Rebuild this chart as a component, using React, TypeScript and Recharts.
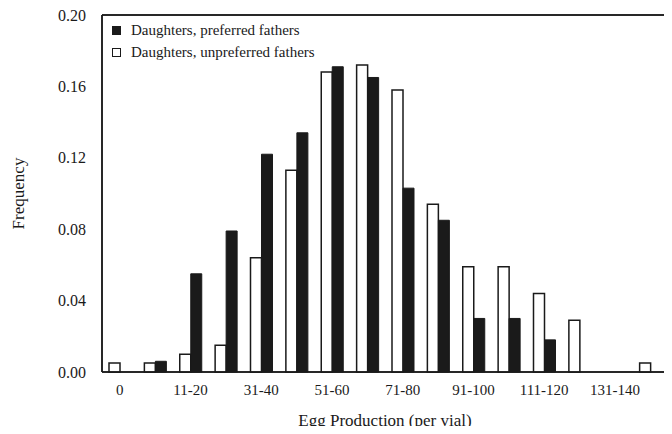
import { BarChart, Bar, XAxis, YAxis, CartesianGrid, ReferenceLine } from 'recharts'

const categories = [
  '0', '1-10', '11-20', '21-30', '31-40', '41-50', '51-60', '61-70',
  '71-80', '81-90', '91-100', '101-110', '111-120', '121-130', '131-140', '141-150',
]
const preferred = [0, 0.006, 0.055, 0.079, 0.122, 0.134, 0.171, 0.165, 0.103, 0.085, 0.03, 0.03, 0.018, 0, 0, 0]
const unpreferred = [0.005, 0.005, 0.01, 0.015, 0.064, 0.113, 0.168, 0.172, 0.158, 0.094, 0.059, 0.059, 0.044, 0.029, 0, 0.005]
const yTicks = [0, 0.04, 0.08, 0.12, 0.16, 0.2]
const legendItems = ['Daughters, preferred fathers', 'Daughters, unpreferred fathers']

const data = categories.map((cat, i) => ({
  cat,
  preferred: preferred[i],
  unpreferred: unpreferred[i],
}))

const W = 672
const H = 434
const margin = { top: 15, right: 4, bottom: 30, left: 0 }
const yAxisWidth = 102
const xAxisHeight = 32

const font = 'Liberation Serif'
const ink = '#1a1a1a'

// plot edges, from the margins above
const plotLeft = margin.left + yAxisWidth
const plotRight = W - margin.right
const plotTop = margin.top
const plotBottom = H - margin.bottom - xAxisHeight

function LegendBox() {
  const fills = [ink, '#fff']
  return (
    <div
      style={{
        position: 'absolute',
        left: 112,
        top: 19,
        fontFamily: font,
        fontSize: 15,
        color: ink,
        lineHeight: '22px',
      }}
    >
      {legendItems.map((label, i) => (
        <div key={label} style={{ display: 'flex', alignItems: 'center' }}>
          <span
            style={{
              display: 'inline-block',
              width: 7,
              height: 7,
              background: fills[i],
              border: `1.5px solid ${ink}`,
              marginRight: 10,
            }}
          />
          {label}
        </div>
      ))}
    </div>
  )
}

export default function App() {
  return (
    <div style={{ position: 'relative', width: W, height: H, margin: -8, background: '#fff' }}>
      <BarChart
        width={W}
        height={H}
        data={data}
        margin={margin}
        barGap={0}
        barSize={11}
      >
        <CartesianGrid
          stroke={ink}
          strokeWidth={1.5}
          horizontalPoints={[plotTop, plotBottom]}
          verticalPoints={[plotLeft, plotRight]}
        />
        <ReferenceLine y={0.2} stroke={ink} strokeWidth={1.5} />
        <XAxis
          dataKey="cat"
          interval={1}
          tickLine={false}
          axisLine={{ stroke: ink, strokeWidth: 1.5 }}
          tick={{ fontSize: 15, fill: ink, fontFamily: font }}
          tickMargin={6}
          height={xAxisHeight}
          label={{
            value: 'Egg Production (per vial)',
            position: 'insideBottom',
            offset: -22,
            style: { fontSize: 17, fill: ink, fontFamily: font },
          }}
        />
        <YAxis
          domain={[0, 0.2]}
          ticks={yTicks}
          tickFormatter={(v: number) => v.toFixed(2)}
          tickLine={false}
          axisLine={{ stroke: ink, strokeWidth: 1.5 }}
          tick={{ fontSize: 16, fill: ink, fontFamily: font }}
          tickMargin={10}
          width={yAxisWidth}
          label={{
            value: 'Frequency',
            angle: -90,
            position: 'insideLeft',
            offset: 18,
            style: { fontSize: 17, fill: ink, fontFamily: font, textAnchor: 'middle' },
          }}
        />
        <Bar
          dataKey="unpreferred"
          fill="#fff"
          stroke={ink}
          strokeWidth={1.5}
          isAnimationActive={false}
        />
        <Bar
          dataKey="preferred"
          fill={ink}
          stroke={ink}
          strokeWidth={1}
          isAnimationActive={false}
        />
      </BarChart>
      <LegendBox />
    </div>
  )
}
